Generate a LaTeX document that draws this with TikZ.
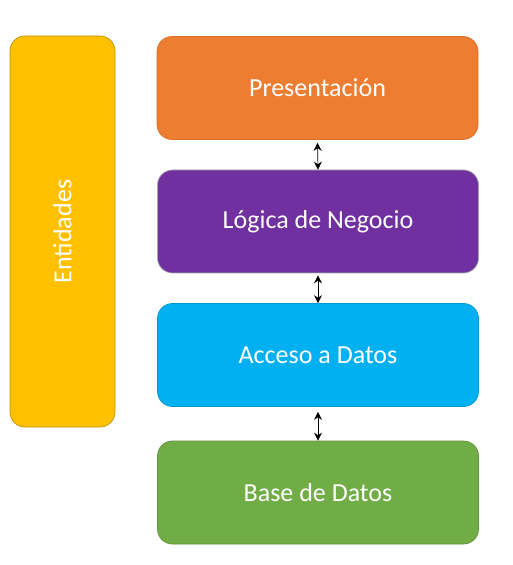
\documentclass[tikz,border=0pt]{standalone}
\usepackage{fontspec}
\setmainfont{Carlito}
\usepackage{tikz}
\usetikzlibrary{arrows.meta}

\definecolor{naranja}{HTML}{ED7D31}
\definecolor{morado}{HTML}{7030A0}
\definecolor{celeste}{HTML}{00B0F0}
\definecolor{verde}{HTML}{70AD47}
\definecolor{amarillo}{HTML}{FFC000}

\begin{document}
\begin{tikzpicture}[
	capa/.style={shape=rectangle, rounded corners=0.3cm, minimum width=6.42cm, minimum height=2.06cm, text=white, font=\fontsize{14.8}{18}\selectfont, line width=0.4pt},
	flecha/.style={{Stealth[length=1.6mm,width=1.6mm]}-{Stealth[length=1.6mm,width=1.6mm]}, thin, black}
]
			\useasboundingbox (0,0) rectangle (10.24,-11.3);
			\node[capa, fill=naranja, draw=naranja!90!black] (pres) at (6.35,-1.76) {Presentación};
			\node[capa, fill=morado, draw=gray!70] (logica) at (6.36,-4.43) {Lógica de Negocio};
			\node[capa, fill=celeste, draw=celeste!85!black] (acceso) at (6.36,-7.10) {Acceso a Datos};
			\node[capa, fill=verde, draw=verde!85!black] (base) at (6.36,-9.85) {Base de Datos};
			\node[capa, fill=amarillo, draw=amarillo!75!black, minimum width=2.1cm, minimum height=7.82cm] (ent) at (1.25,-4.63) {};
			\node[text=white, font=\fontsize{14.8}{18}\selectfont, rotate=90] (enttxt) at (ent.center) {Entidades};
			
			\path [flecha] ([yshift=-0.06cm]pres.south) edge (logica.north);
			\path [flecha] ([yshift=-0.04cm]logica.south) edge (acceso.north);
			\path [flecha] ([yshift=-0.1cm]acceso.south) edge (base.north);
		\end{tikzpicture}
\end{document}
